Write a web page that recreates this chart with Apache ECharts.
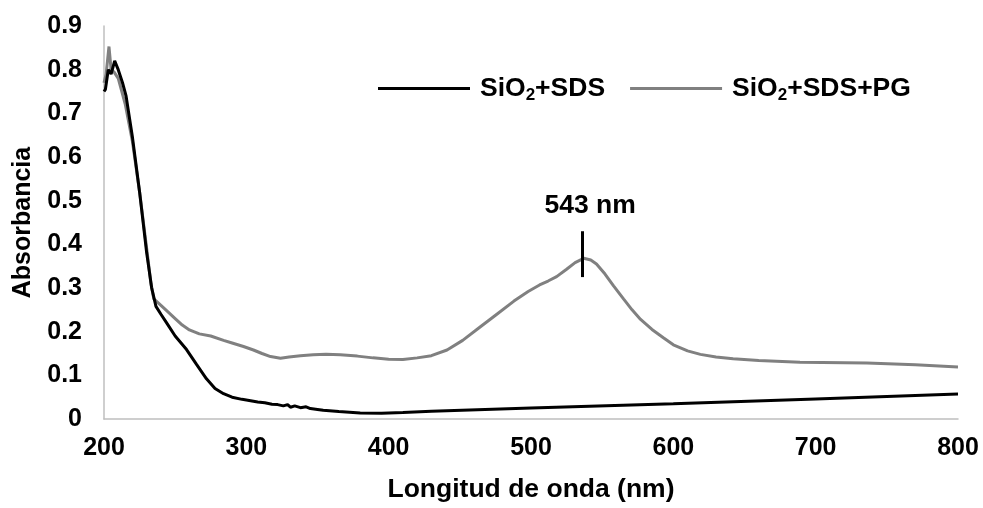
<!DOCTYPE html>
<html>
<head>
<meta charset="utf-8">
<script src="https://cdn.jsdelivr.net/npm/echarts@6/dist/echarts.min.js"></script>
<style>html,body{margin:0;padding:0;background:#fff}#c{width:983px;height:508px}</style>
</head>
<body>
<div id="c"></div>
<script>
// ---- data ----
var sdsWl = [200,201,203,205,207.5,210,213,215.5,220,225,230,233.5,236.5,240,244,250,258,265,272,278,284,290,297,303,308,313,318,322,326,329,331,334,338,342,345,350,354,365,380,395,410,430,500,600,700,800];
var sdsAbs = [0.75,0.755,0.80,0.79,0.82,0.80,0.77,0.74,0.645,0.52,0.38,0.30,0.258,0.24,0.22,0.19,0.159,0.125,0.092,0.07,0.058,0.05,0.045,0.042,0.039,0.037,0.034,0.033,0.030,0.033,0.027,0.030,0.026,0.028,0.024,0.022,0.02,0.017,0.014,0.013,0.015,0.018,0.025,0.035,0.046,0.057];

var pgWl = [200,201.5,203.5,205,207,210,215,220,225,230,233,235,240,244,250,255,260,267,275,284,290,298,305,311,317,324,330,338,347,356,366,378,389,400,410,420,430,441,452,464,476,488,498,506,512,518,525,531,537,542,546,552,558,565,571,577,585,593,600,610,619,630,642,660,689,736,770,800];
var pgAbs = [0.77,0.79,0.853,0.80,0.795,0.78,0.72,0.635,0.52,0.39,0.31,0.275,0.26,0.248,0.23,0.215,0.204,0.195,0.19,0.18,0.174,0.166,0.158,0.15,0.143,0.139,0.142,0.145,0.147,0.148,0.147,0.144,0.14,0.137,0.136,0.14,0.145,0.158,0.18,0.21,0.24,0.27,0.292,0.307,0.316,0.326,0.343,0.358,0.368,0.364,0.355,0.332,0.305,0.275,0.25,0.228,0.205,0.186,0.17,0.156,0.148,0.142,0.138,0.134,0.13,0.128,0.124,0.119];

var seriesNames = ['SiO2+SDS','SiO2+SDS+PG'];
var xTicks = [200,300,400,500,600,700,800];
var yTicks = [0,0.1,0.2,0.3,0.4,0.5,0.6,0.7,0.8,0.9];
var peakMarkX = 536;
var peakMarkY = [0.325, 0.43];
var peakLabel = '543 nm';
var peakLabelPos = [541.5, 0.488];

function pairs(xs, ys){ return xs.map(function(x,i){ return [x, ys[i]]; }); }

var FONT = '"Liberation Sans", Arial, sans-serif';
var FS = 25;
var FN = 26.5;
var chart = echarts.init(document.getElementById('c'), null, {renderer:'canvas'});
chart.setOption({
  animation: false,
  backgroundColor: '#fff',
  textStyle: {fontFamily: FONT},
  grid: {left: 104, right: 25, top: 26, bottom: 84},
  legend: {
    left: 378, top: 75, padding: 0,
    itemWidth: 92, itemHeight: 3, itemGap: 25,
    icon: 'rect',
    data: seriesNames,
    formatter: function(n){
      var parts = n.split('2');
      return '{g|}{b|' + parts[0] + '}{s|2}{b|' + parts[1] + '}';
    },
    textStyle: {
      fontFamily: FONT,
      rich: {
        g: {width: 5},
        b: {fontSize: FN, fontWeight: 'bold', color: '#000', fontFamily: FONT},
        s: {fontSize: 17, fontWeight: 'bold', color: '#000', fontFamily: FONT, verticalAlign: 'bottom', padding: [14,0,0,0]}
      }
    }
  },
  xAxis: {
    type: 'value', min: 200, max: 800, interval: 100,
    name: 'Longitud de onda (nm)', nameLocation: 'middle', nameGap: 57,
    nameTextStyle: {fontSize: FN, fontWeight: 'bold', color: '#000', fontFamily: FONT},
    axisLine: {show: true, lineStyle: {color: '#bfbfbf', width: 1.5}},
    axisTick: {show: false},
    splitLine: {show: false},
    axisLabel: {fontSize: FS, fontWeight: 'bold', color: '#000', margin: 17, fontFamily: FONT}
  },
  yAxis: {
    type: 'value', min: 0, max: 0.9, interval: 0.1,
    name: 'Absorbancia', nameLocation: 'middle', nameGap: 68,
    nameTextStyle: {fontSize: FS, fontWeight: 'bold', color: '#000', fontFamily: FONT},
    axisLine: {show: true, lineStyle: {color: '#bfbfbf', width: 1.5}},
    axisTick: {show: false},
    splitLine: {show: false},
    axisLabel: {fontSize: FS, fontWeight: 'bold', color: '#000', margin: 22, fontFamily: FONT,
      formatter: function(v){ return v === 0 ? '0' : v.toFixed(1); }}
  },
  series: [
    {
      name: seriesNames[0], type: 'line', showSymbol: false, symbol: 'none',
      data: pairs(sdsWl, sdsAbs),
      lineStyle: {color: '#000', width: 3}, itemStyle: {color: '#000'},
      z: 3
    },
    {
      name: seriesNames[1], type: 'line', showSymbol: false, symbol: 'none',
      data: pairs(pgWl, pgAbs),
      lineStyle: {color: '#808080', width: 3}, itemStyle: {color: '#808080'},
      z: 2,
      markLine: {
        silent: true, symbol: ['none','none'],
        lineStyle: {color: '#000', width: 3, type: 'solid'},
        label: {show: false},
        data: [[{coord: [peakMarkX, peakMarkY[0]]}, {coord: [peakMarkX, peakMarkY[1]]}]]
      },
      markPoint: {
        silent: true, symbol: 'circle', symbolSize: 0,
        label: {show: true, position: 'inside', formatter: peakLabel, fontSize: FN, fontWeight: 'bold', color: '#000', fontFamily: FONT},
        data: [{coord: peakLabelPos}]
      }
    }
  ]
});
</script>
</body>
</html>
